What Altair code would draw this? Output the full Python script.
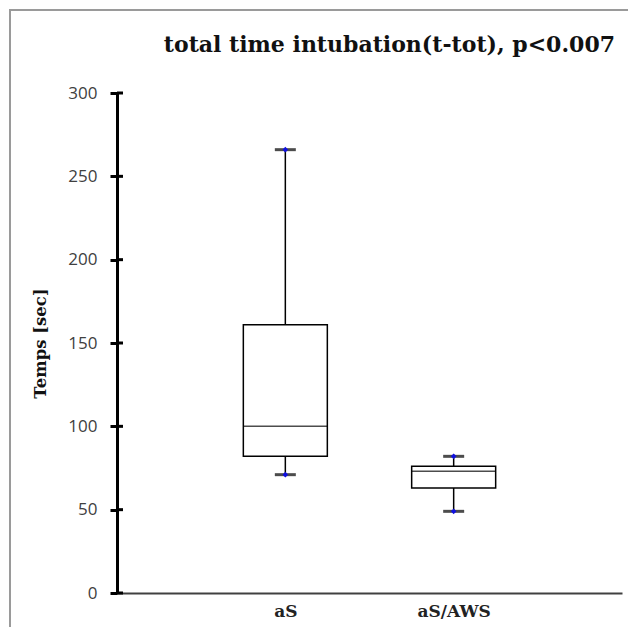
import altair as alt
import pandas as pd

groups = ["aS", "aS/AWS"]
whisker_low = [71, 49]
q1 = [82, 63]
median = [100, 73]
q3 = [161, 76]
whisker_high = [266, 82]
y_ticks = [0, 50, 100, 150, 200, 250, 300]

df = pd.DataFrame({
    "group": groups, "lo": whisker_low, "q1": q1, "med": median,
    "q3": q3, "hi": whisker_high,
})
caps = pd.DataFrame({
    "group": groups * 2,
    "v": whisker_low + whisker_high,
})
ticks_df = pd.DataFrame({"t": y_ticks})

xs = alt.X("group:N", sort=groups,
           scale=alt.Scale(type="point", padding=1),
           axis=alt.Axis(title=None, domain=True, domainColor="#404040", domainWidth=2,
                         ticks=False, labelAngle=0, labelFont="DejaVu Serif",
                         labelFontWeight="bold", labelFontSize=17, labelColor="#222222",
                         labelPadding=10))
ys = alt.Y("lo:Q", scale=alt.Scale(domain=[0, 300], nice=False),
           axis=alt.Axis(title="Temps [sec]", values=y_ticks, grid=False,
                         domainColor="black", domainWidth=3, tickColor="black",
                         tickWidth=3, tickSize=7, labelFont="Open Sans", labelFontSize=17,
                         labelColor="#404040", labelPadding=13,
                         titleFont="DejaVu Serif", titleFontWeight="bold",
                         titleFontSize=16.5, titleColor="#111111", titlePadding=19))

base = alt.Chart(df)

frame = alt.Chart(ticks_df).mark_rect(fill=None, stroke="#9a9a9a", strokeWidth=1.5).encode(
    x=alt.value(-107), x2=alt.value(700), y=alt.value(-83), y2=alt.value(700))

inner_ticks = alt.Chart(ticks_df).mark_rule(color="black", strokeWidth=3).encode(
    y=alt.Y("t:Q"), x=alt.value(0), x2=alt.value(6))

whisk = base.mark_rule(color="black", strokeWidth=1.5).encode(
    x=xs, y=ys, y2="hi:Q")

box = base.mark_bar(size=84, fill="white", stroke="black", strokeWidth=1.5).encode(
    x=xs, y="q1:Q", y2="q3:Q")

med = base.mark_tick(color="black", size=84, thickness=1.5, orient="horizontal").encode(
    x=xs, y="med:Q")

cap = alt.Chart(caps).mark_tick(color="black", size=21, thickness=3, orient="horizontal").encode(
    x=alt.X("group:N", sort=groups), y="v:Q")

dots = alt.Chart(caps).mark_point(shape="diamond", filled=True, color="#1010e0", size=32, opacity=1).encode(
    x=alt.X("group:N", sort=groups), y="v:Q")

chart = alt.layer(frame, whisk, box, med, cap, dots, inner_ticks).properties(
    width=505, height=500,
    background="white",
    title=alt.TitleParams("total time intubation(t-tot), p<0.007", anchor="end",
                          frame="group",
                          font="DejaVu Serif", fontWeight="bold", fontSize=22,
                          color="#111111", offset=0, dy=48, dx=-7),
    autosize=alt.AutoSizeParams(type="none"),
    padding={"left": 109, "top": 85, "right": 6, "bottom": 34},
).configure_view(stroke=None)

chart.save("out.html", embed_options={"renderer": "svg", "actions": False})
